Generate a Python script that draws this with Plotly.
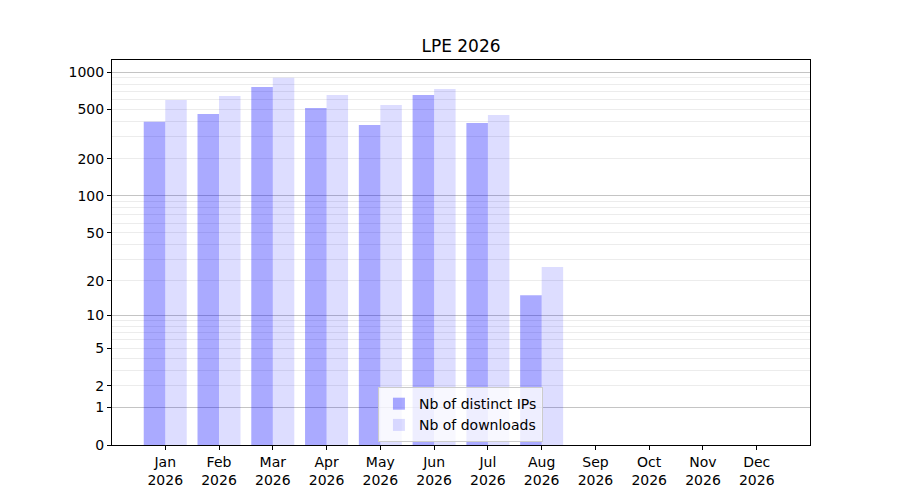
import numpy as np
import plotly.graph_objects as go

# data
months = ["Jan", "Feb", "Mar", "Apr", "May", "Jun", "Jul", "Aug", "Sep", "Oct", "Nov", "Dec"]
year = "2026"
distinct_ips = [398, 459, 757, 513, 374, 653, 388, 15, 0, 0, 0, 0]
downloads = [595, 641, 900, 653, 542, 730, 450, 26, 0, 0, 0, 0]

# y axis is a log(1 + v) scale: labels and grid lines
tick_labels = [0, 1, 2, 5, 10, 20, 50, 100, 200, 500, 1000]
major_grid = [1, 10, 100, 1000]
minor_grid = [2, 3, 4, 5, 6, 7, 8, 9,
              20, 30, 40, 50, 60, 70, 80, 90,
              200, 300, 400, 500, 600, 700, 800, 900]

x = list(range(len(months)))
shift = lambda vals: [v + 1 for v in vals]  # log(1+v) through plotly's log axis

fig = go.Figure()
fig.add_trace(go.Bar(
    x=x, y=shift(distinct_ips), customdata=distinct_ips,
    name="Nb of distinct IPs",
    offset=-0.4, width=0.4,
    marker=dict(color="rgba(0,0,255,0.333)", line=dict(width=0)),
    hovertemplate="%{customdata}<extra></extra>",
))
fig.add_trace(go.Bar(
    x=x, y=shift(downloads), customdata=downloads,
    name="Nb of downloads",
    offset=0.0, width=0.4,
    marker=dict(color="rgba(0,0,255,0.133)", line=dict(width=0)),
    hovertemplate="%{customdata}<extra></extra>",
))

yrange = [0, 3.097]
font = dict(family="DejaVu Sans", size=14, color="black")

# the page puts the figure 8px in from the top-left corner
fig.update_layout(
    width=900, height=500,
    margin=dict(l=104, r=98, t=52, b=63),
    paper_bgcolor="white", plot_bgcolor="rgba(0,0,0,0)",
    barmode="overlay",
    font=font,
    title=dict(text="LPE 2026", x=453 / 900, xanchor="center",
               y=1 - 38 / 500, yanchor="middle",
               font=dict(family="DejaVu Sans", size=17, color="black")),
    showlegend=True,
    legend=dict(x=0.381, y=0.079, xanchor="left", yanchor="middle",
                bgcolor="rgba(255,255,255,0.8)", bordercolor="#cccccc", borderwidth=1,
                font=font, traceorder="normal", itemwidth=30),
    xaxis=dict(
        range=[-0.99, 11.99],
        tickmode="array", tickvals=x,
        ticktext=[f"{m}<br>{year}" for m in months],
        showgrid=False, zeroline=False,
        showline=True, linecolor="black", linewidth=1, mirror=True,
        ticks="outside", ticklen=4, tickcolor="black",
        tickfont=font,
    ),
    yaxis=dict(
        type="log", range=yrange,
        tickmode="array", tickvals=shift(tick_labels),
        ticktext=[str(t) for t in tick_labels],
        showgrid=False, zeroline=False,
        showline=True, linecolor="black", linewidth=1, mirror=True,
        ticks="outside", ticklen=4, tickcolor="black",
        tickfont=font,
        minor=dict(tickmode="array", tickvals=shift(minor_grid),
                   showgrid=True, gridcolor="#ececec", gridwidth=1, ticks=""),
    ),
    yaxis2=dict(
        type="log", range=yrange, overlaying="y",
        tickmode="array", tickvals=shift(major_grid),
        showticklabels=False, ticks="",
        showgrid=True, gridcolor="#c4c4c4", gridwidth=1,
        zeroline=False, showline=False,
    ),
)

# invisible trace so the grid-only axis is drawn
fig.add_trace(go.Scatter(x=[None], y=[None], yaxis="y2", showlegend=False, hoverinfo="skip"))

fig.write_html("out.html")
